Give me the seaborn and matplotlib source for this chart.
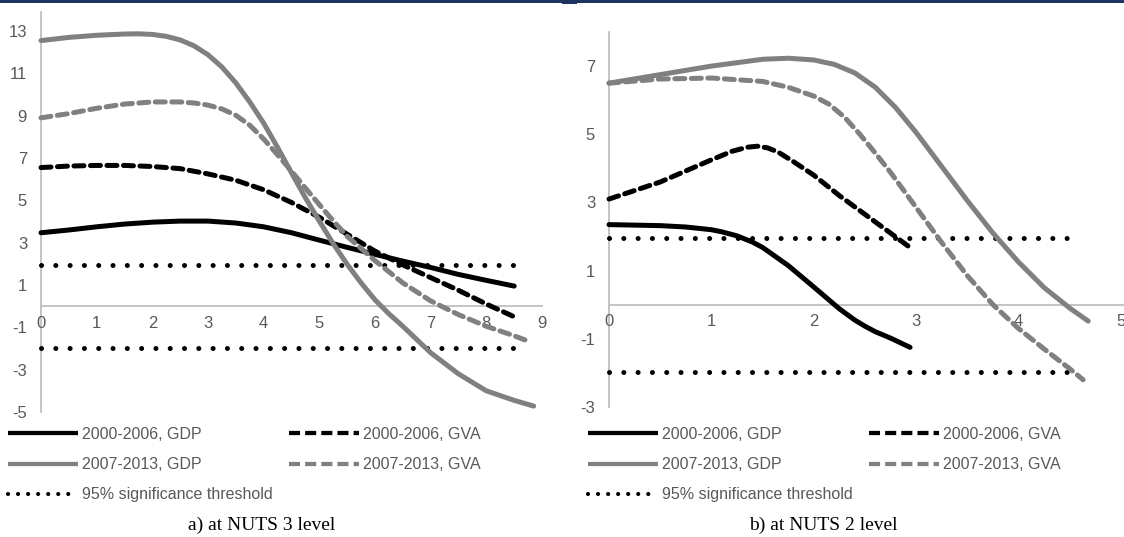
import matplotlib
matplotlib.use("Agg")
import matplotlib.pyplot as plt
from matplotlib.lines import Line2D
from matplotlib.patches import Rectangle
import seaborn as sns

# ---- a) NUTS 3 level ----
n3_gdp00_x = [0, 0.5, 1, 1.5, 2, 2.5, 3, 3.5, 4, 4.5, 5, 5.5, 6, 6.5, 7, 7.5, 8, 8.5]
n3_gdp00_y = [3.47, 3.6, 3.75, 3.88, 3.97, 4.02, 4.02, 3.93, 3.75, 3.47, 3.12, 2.78, 2.45, 2.13, 1.83, 1.5, 1.22, 0.95]

n3_gva00_x = [0, 0.5, 1, 1.5, 2, 2.5, 3, 3.5, 4, 4.5, 5, 5.5, 6, 6.5, 7, 7.5, 8, 8.5]
n3_gva00_y = [6.55, 6.62, 6.65, 6.65, 6.6, 6.5, 6.25, 5.95, 5.5, 4.9, 4.2, 3.4, 2.6, 1.95, 1.35, 0.75, 0.1, -0.5]

n3_gdp07_x = [0, 0.5, 1, 1.5, 1.75, 2, 2.25, 2.5, 2.75, 3, 3.25, 3.5, 3.75, 4, 4.25, 4.5, 4.75,
              5, 5.25, 5.5, 5.75, 6, 6.25, 6.5, 7, 7.5, 8, 8.5, 8.85]
n3_gdp07_y = [12.55, 12.7, 12.8, 12.86, 12.87, 12.84, 12.75, 12.58, 12.3, 11.88, 11.3, 10.55,
              9.65, 8.65, 7.5, 6.3, 5.12, 4.02, 2.95, 1.98, 1.1, 0.3, -0.36, -0.95, -2.2, -3.2,
              -4.0, -4.45, -4.72]

n3_gva07_x = [0, 0.5, 1, 1.5, 2, 2.5, 2.75, 3, 3.25, 3.5, 3.75, 4, 4.25, 4.5, 4.75, 5, 5.25, 5.5,
              6, 6.5, 7, 7.5, 8, 8.5, 8.8]
n3_gva07_y = [8.9, 9.1, 9.35, 9.55, 9.65, 9.65, 9.6, 9.5, 9.32, 9.02, 8.55, 7.9, 7.15, 6.38, 5.58,
              4.8, 4.03, 3.3, 2.15, 1.1, 0.25, -0.4, -0.95, -1.4, -1.7]

n3_thr_x = [0, 8.63]

# ---- b) NUTS 2 level ----
n2_gdp00_x = [0, 0.5, 0.75, 1, 1.1, 1.25, 1.4, 1.5, 1.75, 2, 2.25, 2.4, 2.5, 2.6, 2.75, 2.94]
n2_gdp00_y = [2.35, 2.32, 2.28, 2.2, 2.14, 2.02, 1.84, 1.68, 1.15, 0.52, -0.12, -0.45, -0.63,
              -0.79, -0.98, -1.25]

n2_gva00_x = [0, 0.5, 1, 1.2, 1.35, 1.45, 1.55, 1.65, 1.8, 2, 2.25, 2.5, 2.75, 2.93]
n2_gva00_y = [3.1, 3.6, 4.25, 4.5, 4.62, 4.65, 4.6, 4.48, 4.2, 3.8, 3.2, 2.65, 2.1, 1.7]

n2_gdp07_x = [0, 0.5, 1, 1.5, 1.75, 2, 2.2, 2.4, 2.6, 2.8, 3, 3.25, 3.5, 3.75, 4, 4.25, 4.5, 4.68]
n2_gdp07_y = [6.5, 6.75, 7.0, 7.2, 7.23, 7.18, 7.05, 6.8, 6.38, 5.78, 5.05, 4.05, 3.05, 2.1, 1.25,
              0.5, -0.1, -0.48]

n2_gva07_x = [0, 0.5, 1, 1.5, 1.75, 2, 2.15, 2.3, 2.45, 2.6, 2.75, 3, 3.25, 3.5, 3.75, 4, 4.25,
              4.5, 4.63]
n2_gva07_y = [6.5, 6.62, 6.65, 6.55, 6.38, 6.12, 5.88, 5.5, 5.0, 4.45, 3.88, 2.85, 1.82, 0.85,
              0.0, -0.7, -1.3, -1.88, -2.2]

n2_thr_x = [0, 4.55]

threshold = 1.96

labels = ["2000-2006, GDP", "2000-2006, GVA", "2007-2013, GDP",
          "2007-2013, GVA", "95% significance threshold"]
captions = ["a) at NUTS 3 level", "b) at NUTS 2 level"]

sns.set_theme(style="white")
plt.rcParams["font.family"] = ["Liberation Sans", "DejaVu Sans"]
plt.rcParams["axes.unicode_minus"] = False

BLACK = "#000000"
GREY = "#808080"
AXIS = "#BFBFBF"
TEXT = "#595959"
LW = 3.6
DASH = (0, (2.0, 1.3))
DOT = (0, (0.01, 2.85))

fig = plt.figure(figsize=(11.24, 5.37), dpi=100)
fig.patch.set_facecolor("white")

# thin navy band across the top
fig.patches.append(Rectangle((0, 1 - 2.5 / 537), 1, 2.5 / 537, transform=fig.transFigure,
                             facecolor="#1F3360", edgecolor="none"))
fig.patches.append(Rectangle((562 / 1124, 1 - 4 / 537), 15 / 1124, 4 / 537, transform=fig.transFigure,
                             facecolor="#1F3360", edgecolor="none"))

ax1 = fig.add_axes([41 / 1124, 1 - 412 / 537, 501 / 1124, 400 / 537])
ax2 = fig.add_axes([609 / 1124, 1 - 407 / 537, 515 / 1124, 375 / 537])


def draw(ax, x, y, color, ls):
    sns.lineplot(x=x, y=y, ax=ax, color=color, linewidth=LW, linestyle=ls,
                 sort=False, estimator=None, clip_on=False,
                 solid_capstyle="round", dash_capstyle="round",
                 solid_joinstyle="round", dash_joinstyle="round")


panels = [
    (ax1, n3_thr_x, [(n3_gdp00_x, n3_gdp00_y, BLACK, "-"), (n3_gva00_x, n3_gva00_y, BLACK, DASH),
                     (n3_gdp07_x, n3_gdp07_y, GREY, "-"), (n3_gva07_x, n3_gva07_y, GREY, DASH)]),
    (ax2, n2_thr_x, [(n2_gdp00_x, n2_gdp00_y, BLACK, "-"), (n2_gva00_x, n2_gva00_y, BLACK, DASH),
                     (n2_gdp07_x, n2_gdp07_y, GREY, "-"), (n2_gva07_x, n2_gva07_y, GREY, DASH)]),
]

for ax, thr_x, series in panels:
    for t in (threshold, -threshold):
        draw(ax, thr_x, [t] * len(thr_x), BLACK, DOT)
    for x, y, c, ls in series:
        draw(ax, x, y, c, ls)

ax1.set_xlim(0, 9)
ax1.set_ylim(-5, 13.9)
ax1.set_xticks(range(0, 10))
ax1.set_yticks(range(-5, 14, 2))

ax2.set_xlim(0, 515 / 102.4)
ax2.set_ylim(-3, 8)
ax2.set_xticks(range(0, 6))
ax2.set_yticks(range(-3, 8, 2))

for ax in (ax1, ax2):
    ax.set_facecolor("none")
    for s in ("top", "right"):
        ax.spines[s].set_visible(False)
    ax.spines["left"].set_color(AXIS)
    ax.spines["left"].set_linewidth(1.3)
    ax.spines["bottom"].set_color(AXIS)
    ax.spines["bottom"].set_linewidth(1.3)
    ax.spines["bottom"].set_position(("data", 0))
    ax.spines["bottom"].set_zorder(0.5)
    ax.spines["left"].set_zorder(0.5)
    ax.tick_params(axis="both", length=0, labelcolor=TEXT, labelsize=12)
    ax.tick_params(axis="x", pad=7)
    ax.tick_params(axis="y", pad=10)
    ax.grid(False)
    ax.set_xlabel("")
    ax.set_ylabel("")

# legends (column-major order: GDP lines and threshold, then GVA lines)
handles = [
    Line2D([], [], color=BLACK, lw=LW * 0.85, solid_capstyle="butt"),
    Line2D([], [], color=GREY, lw=LW * 0.85, solid_capstyle="butt"),
    Line2D([], [], color=BLACK, lw=3.0, linestyle=(0, (0.01, 2.4)), dash_capstyle="round"),
    Line2D([], [], color=BLACK, lw=LW * 0.85, linestyle=(0, (2.6, 1.2)), dash_capstyle="butt"),
    Line2D([], [], color=GREY, lw=LW * 0.85, linestyle=(0, (2.6, 1.2)), dash_capstyle="butt"),
]
order = [labels[0], labels[2], labels[4], labels[1], labels[3]]

for x0 in (8 / 1124, 588 / 1124):
    leg = fig.legend(handles, order, ncol=2, loc="upper left",
                     bbox_to_anchor=(x0, 1 - 427 / 537), frameon=False,
                     fontsize=11.5, handlelength=4.4, handletextpad=0.25,
                     columnspacing=1.0, labelspacing=0.95, borderaxespad=0,
                     borderpad=0)
    for t in leg.get_texts():
        t.set_color(TEXT)

fig.text(262 / 1124, 1 - 525 / 537, captions[0], ha="center", va="center",
         family=["Liberation Serif", "DejaVu Serif"], fontsize=14, color="black")
fig.text(823 / 1124, 1 - 525 / 537, captions[1], ha="center", va="center",
         family=["Liberation Serif", "DejaVu Serif"], fontsize=14, color="black")

fig.savefig("out.png", dpi=100, facecolor="white")
